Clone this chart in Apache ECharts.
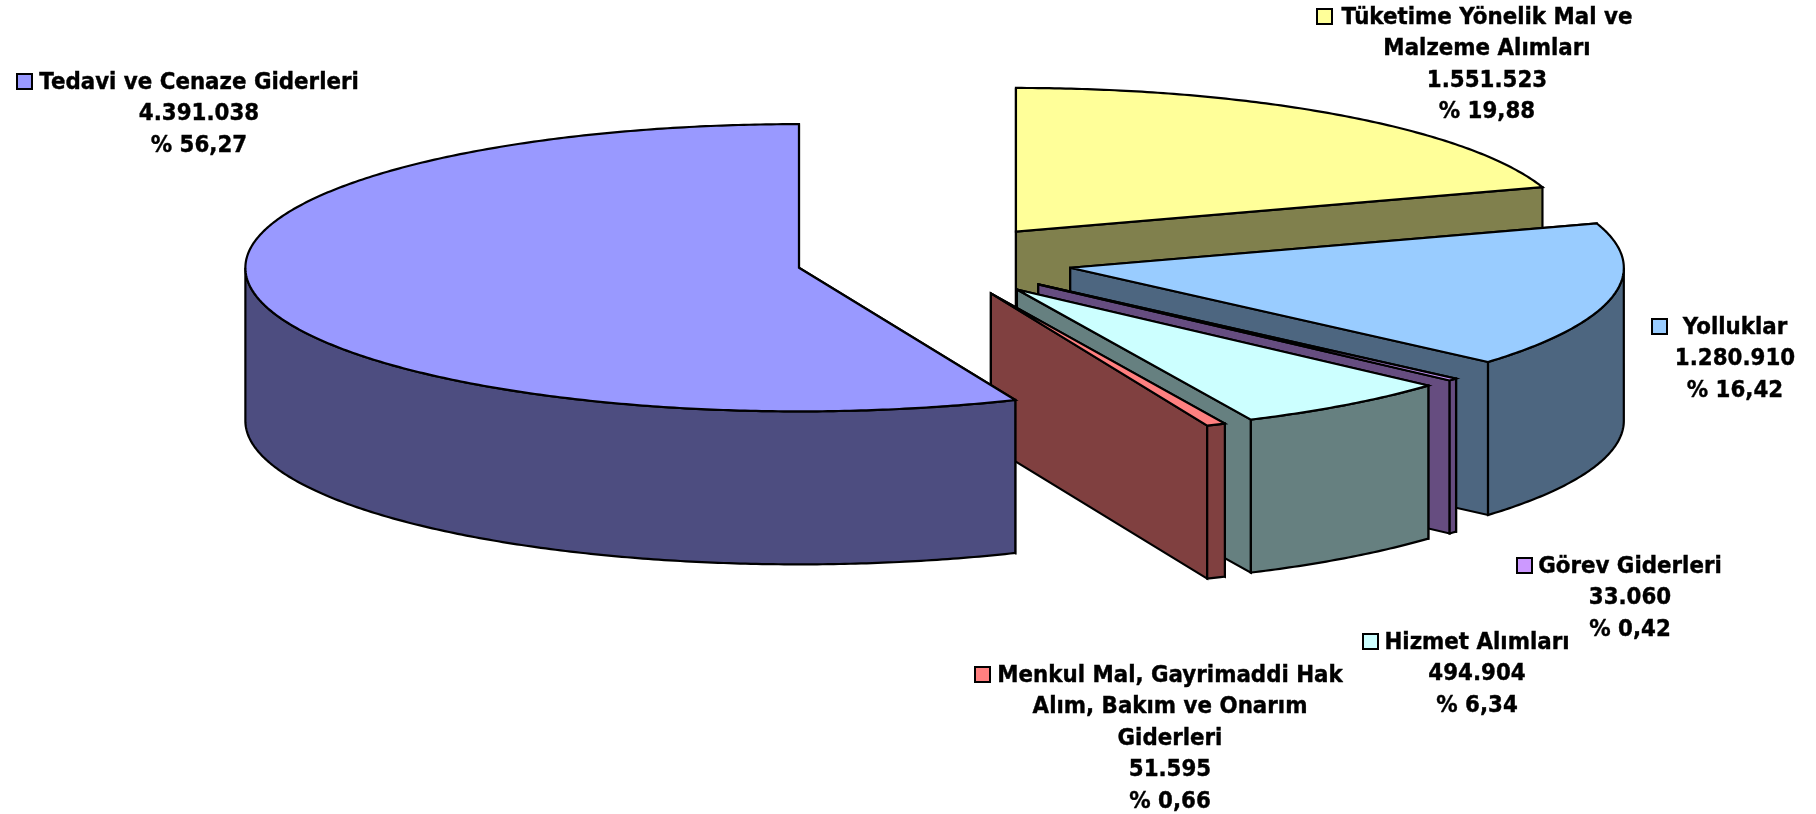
<!DOCTYPE html>
<html>
<head>
<meta charset="utf-8">
<style>html,body{margin:0;padding:0;background:#fff}#c{width:1816px;height:814px}</style>
<script src="https://cdn.jsdelivr.net/npm/echarts@6/dist/echarts.min.js"></script>
</head>
<body>
<div id="c"></div>
<script>
const categories = [
  "Tüketime Yönelik Mal ve\nMalzeme Alımları",
  "Yolluklar",
  "Görev Giderleri",
  "Hizmet Alımları",
  "Menkul Mal, Gayrimaddi Hak\nAlım, Bakım ve Onarım\nGiderleri",
  "Tedavi ve Cenaze Giderleri"
];
const values = [1551523, 1280910, 33060, 494904, 51595, 4391038];

const topColors  = ["#FFFF99", "#99CCFF", "#CC99FF", "#CCFFFF", "#FF8080", "#9999FF"];
const sideColors = ["#80804D", "#4D6680", "#664D80", "#668080", "#804040", "#4D4D80"];

// label layout: text centre x, first-line centre y, swatch left x
const labelX  = [1487, 1735, 1630, 1477, 1170, 199];
const labelY  = [18, 328, 567, 643, 676, 83];
const swatchX = [1316, 1651, 1516, 1362, 974, 16];

const pie = { cx: 934.6, cy: 260.6, rx: 553.6, ry: 143.6, depth: 153, explode: 0.25 };
const font = { family: "'DejaVu Sans'", size: 22.5, lineHeight: 31.5, stretch: 0.95 };

const total = values.reduce((a, b) => a + b, 0);
const fmtNum = v => String(v).replace(/\B(?=(\d{3})+$)/g, ".");
const fmtPct = v => "% " + (v / total * 100).toFixed(2).replace(".", ",");
// slice boundaries snap to whole degrees, as the source chart's do
const toAngle = cum => Math.round(cum / total * 360) * Math.PI / 180;

function renderItem(params, api) {
  const i = params.dataIndex;
  const v = api.value(0);
  let before = 0;
  for (let k = 0; k < i; k++) before += values[k];
  const a0 = toAngle(before);
  const a1 = toAngle(before + v);
  const mid = (a0 + a1) / 2;
  const ox = pie.cx + pie.explode * pie.rx * Math.sin(mid);
  const oy = pie.cy - pie.explode * pie.ry * Math.cos(mid);
  const pt = (a, d) => [ox + pie.rx * Math.sin(a), oy - pie.ry * Math.cos(a) + (d || 0)];
  const arc = (s, e, d) => {
    const n = Math.max(2, Math.ceil((e - s) / 0.01));
    const out = [];
    for (let k = 0; k <= n; k++) out.push(pt(s + (e - s) * k / n, d));
    return out;
  };
  const stroke = { stroke: "#000", lineWidth: 2.2, lineJoin: "miter", miterLimit: 4 };
  const poly = (points, fill) => ({
    type: "polygon", shape: { points }, style: Object.assign({ fill }, stroke), silent: true
  });
  const d = pie.depth;
  const side = sideColors[i];
  const children = [];
  const wall = a => poly([[ox, oy], pt(a), pt(a, d), [ox, oy + d]], side);
  children.push(wall(a0));
  children.push(wall(a1));
  const fs = Math.max(a0, Math.PI / 2), fe = Math.min(a1, 3 * Math.PI / 2);
  if (fe > fs) children.push(poly(arc(fs, fe, 0).concat(arc(fs, fe, d).reverse()), side));
  children.push(poly([[ox, oy]].concat(arc(a0, a1, 0)), topColors[i]));
  return { type: "group", children };
}

function renderLabel(params, api) {
  const i = params.dataIndex;
  const v = api.value(0);
  const lines = categories[i].split("\n").concat([fmtNum(v), fmtPct(v)]);
  const children = lines.map((t, k) => ({
    type: "text",
    x: labelX[i], y: labelY[i] + k * font.lineHeight,
    scaleX: font.stretch,
    style: {
      text: t, align: "center", verticalAlign: "middle", fill: "#000",
      stroke: "#000", lineWidth: 0.4,
      fontFamily: font.family, fontWeight: "bold", fontSize: font.size
    },
    silent: true
  }));
  children.push({
    type: "rect",
    shape: { x: swatchX[i] + 1, y: labelY[i] - 9, width: 15, height: 15 },
    style: { fill: topColors[i], stroke: "#000", lineWidth: 2 },
    silent: true
  });
  return { type: "group", children };
}

const seriesData = categories.map((name, i) => ({ name, value: [values[i]] }));
const chart = echarts.init(document.getElementById("c"), null, { renderer: "canvas" });
chart.setOption({
  animation: false,
  backgroundColor: "#fff",
  series: [
    { type: "custom", coordinateSystem: "none", renderItem, data: seriesData, silent: true, z: 1 },
    { type: "custom", coordinateSystem: "none", renderItem: renderLabel, data: seriesData, silent: true, z: 2 }
  ]
});
</script>
</body>
</html>
